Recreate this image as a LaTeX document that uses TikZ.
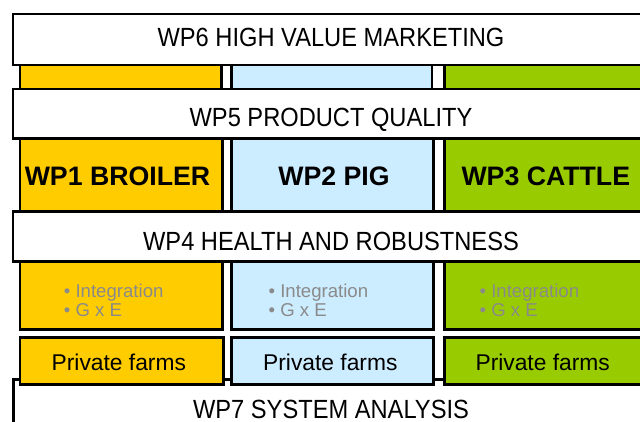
\documentclass[tikz,border=0pt]{standalone}
\usepackage{fontspec}
\setmainfont{Liberation Sans}
\newfontfamily\wpfont{Liberation Sans}[FakeStretch=0.9]
\definecolor{broiler}{HTML}{FFCC00}
\definecolor{pig}{HTML}{CCECFF}
\definecolor{cattle}{HTML}{99CC00}
\definecolor{bulletgray}{HTML}{8A8A8A}
\tikzset{
  cell/.style={draw=black, line width=2.6pt, inner sep=0pt, anchor=north west},
  wplabel/.style={inner sep=0pt, anchor=base, font=\wpfont\fontsize{26.3}{30}\selectfont},
  splabel/.style={inner sep=0pt, anchor=base, font=\bfseries\fontsize{26.7}{30}\selectfont},
  pflabel/.style={inner sep=0pt, anchor=base, font=\fontsize{22.8}{26}\selectfont},
  itlabel/.style={inner sep=0pt, anchor=base west, text=bulletgray, font=\fontsize{18.6}{20}\selectfont}
}
\begin{document}
\begin{tikzpicture}[x=1pt,y=-1pt]
\clip (0,0) rectangle (640,421);
\fill[white] (0,0) rectangle (640,421);
% WP7 background bar
\node[cell, fill=white, minimum width=640pt, minimum height=62pt] (wp7) at (12,378) {};
% private farms
\node[cell, fill=broiler, minimum width=203.5pt, minimum height=47pt] (pf1) at (18.5,336) {};
\node[cell, fill=pig, minimum width=202pt, minimum height=47pt] (pf2) at (230,336) {};
\node[cell, fill=cattle, minimum width=207pt, minimum height=47pt] (pf3) at (443,336) {};
% strips between WP6 and WP5
\node[cell, fill=broiler, minimum width=201.5pt, minimum height=24pt] (st1) at (18.5,63.5) {};
\node[cell, fill=pig, minimum width=200.5pt, minimum height=24pt] (st2) at (230,63.5) {};
\node[cell, fill=cattle, minimum width=207pt, minimum height=24pt] (st3) at (443,63.5) {};
% WP6
\node[cell, fill=white, minimum width=640pt, minimum height=51pt] (wp6) at (11.5,12.5) {};
% WP5
\node[cell, fill=white, minimum width=640pt, minimum height=49.5pt] (wp5) at (11.5,87.5) {};
% species columns
\node[cell, fill=broiler, minimum width=202.5pt, minimum height=73pt] (col1) at (18.5,137) {};
\node[cell, fill=pig, minimum width=202pt, minimum height=73pt] (col2) at (230,137) {};
\node[cell, fill=cattle, minimum width=207pt, minimum height=73pt] (col3) at (443,137) {};
% WP4
\node[cell, fill=white, minimum width=640pt, minimum height=50pt] (wp4) at (11.5,210) {};
% integration boxes
\node[cell, fill=broiler, minimum width=202.5pt, minimum height=68pt] (in1) at (18.5,260) {};
\node[cell, fill=pig, minimum width=202pt, minimum height=68pt] (in2) at (230,260) {};
\node[cell, fill=cattle, minimum width=207pt, minimum height=68pt] (in3) at (443,260) {};
% labels
\node[wplabel] (t6) at (331,46.7) {WP6 HIGH VALUE MARKETING};
\node[wplabel] (t5) at (331,126.7) {WP5 PRODUCT QUALITY};
\node[wplabel] (t4) at (331,250) {WP4 HEALTH AND ROBUSTNESS};
\node[wplabel] (t7) at (331,418.3) {WP7 SYSTEM ANALYSIS};
\node[splabel] (t1) at (117.5,185) {WP1 BROILER};
\node[splabel] (t2) at (334,185) {WP2 PIG};
\node[splabel] (t3) at (545.8,185) {WP3 CATTLE};
\node[pflabel] (p1) at (118.8,370) {Private farms};
\node[pflabel] (p2) at (330.3,370) {Private farms};
\node[pflabel] (p3) at (542.7,370) {Private farms};
\node[itlabel] (i1a) at (63.7,297.3) {• Integration};
\node[itlabel] (i1b) at (63.7,316) {• G x E};
\node[itlabel] (i2a) at (268.4,297.3) {• Integration};
\node[itlabel] (i2b) at (268.4,316) {• G x E};
\node[itlabel] (i3a) at (479.4,297.3) {• Integration};
\node[itlabel] (i3b) at (479.4,316) {• G x E};
\end{tikzpicture}
\end{document}
